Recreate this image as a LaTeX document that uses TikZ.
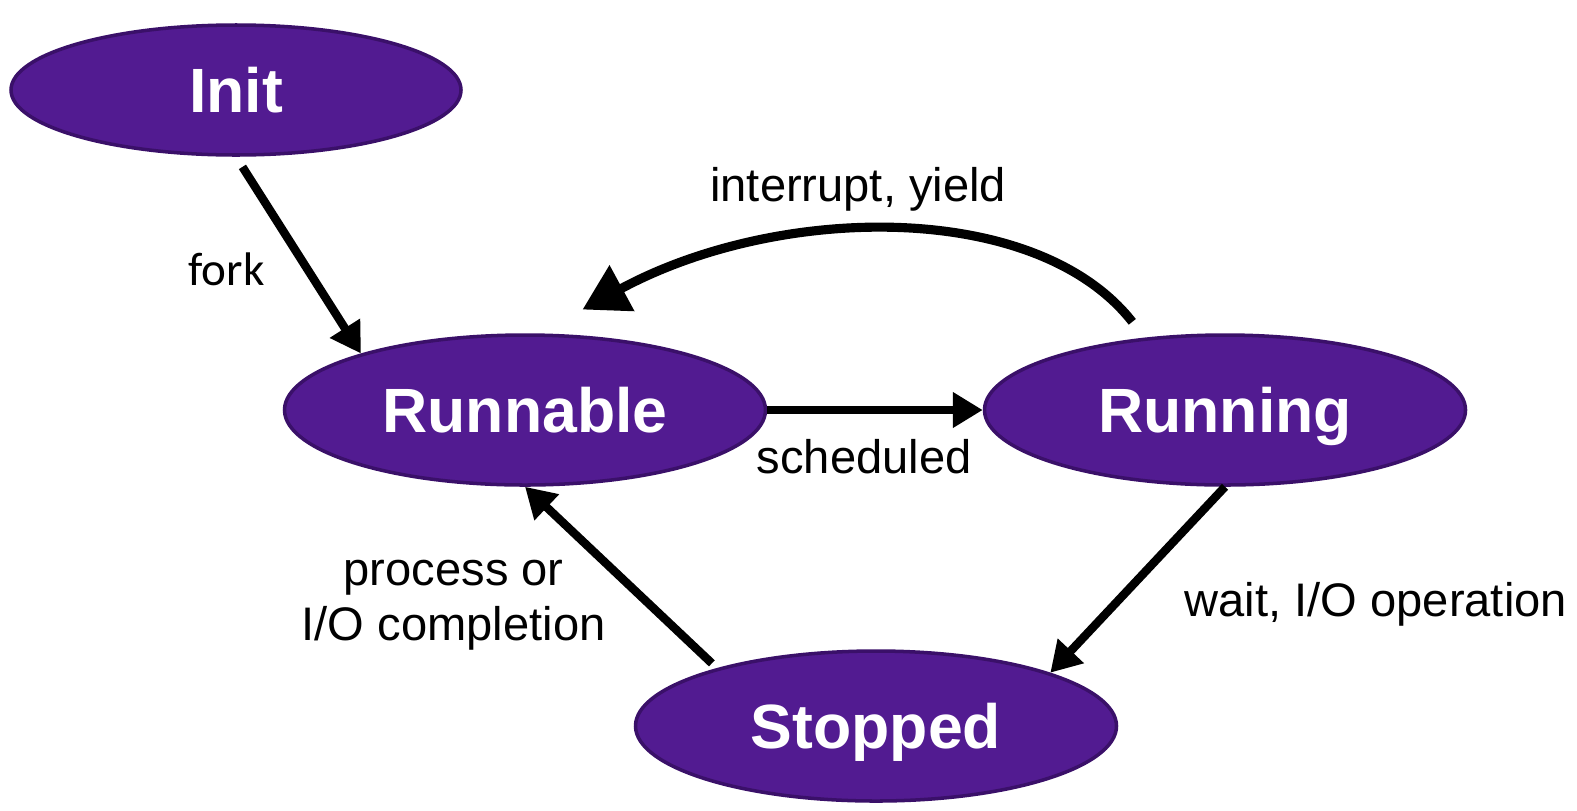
\documentclass[tikz,border=0pt]{standalone}
\usepackage{fontspec}
\setmainfont{Liberation Sans}
\newfontfamily\forkfont{Carlito}
\usetikzlibrary{shapes.geometric,arrows.meta}
\definecolor{procfill}{RGB}{82,27,145}
\definecolor{procedge}{RGB}{58,16,105}
\tikzset{proc/.style={ellipse,draw=procedge,line width=1pt,fill=procfill,text=white,
    font=\fontsize{17.8}{20}\selectfont\bfseries,text height=12.8pt,text depth=0pt,
    minimum width=4.81cm,minimum height=1.50cm,inner sep=0pt},
  trans/.style={-{Triangle[length=0.30cm,width=0.34cm]},line width=2.4pt},
  bigtrans/.style={-{Triangle[length=0.45cm,width=0.50cm]},line width=2.6pt},
  lbl/.style={font=\fontsize{13.4}{15.6}\selectfont,inner sep=1pt,text=black}}

\begin{document}
\begin{tikzpicture}
    \useasboundingbox (0,0) rectangle (15.77,8.10);
    % process states
    \node[proc,minimum width=4.50cm,minimum height=1.30cm] (init) at (2.36,7.20) {Init};
    \node[proc] (runnable) at (5.25,4.00) {Runnable};
    \node[proc] (running) at (12.25,4.00) {Running};
    \node[proc] (stopped) at (8.76,0.84) {Stopped};

    % transitions
    \draw[trans,shorten <=0.12cm] (init.south) -- node[lbl,pos=0.57,left=0.35cm,font=\forkfont\fontsize{13.4}{15.6}\selectfont] (forklbl) {fork} (runnable.161);
    \draw[trans] (runnable.east) -- node[lbl,pos=0.45,below=0.22cm] (schedlbl) {scheduled} (running.west);
    \draw[trans] (running.south) -- node[lbl,pos=0.63,right=0.62cm] (waitlbl) {wait, I/O operation} (stopped.17);
    \draw[trans,shorten <=0.07cm] (stopped.160) -- node[lbl,pos=0.4,left=0.27cm,yshift=-0.1cm,align=center] (donelbl) {process or\\I/O completion} (runnable.-90);
    \draw[bigtrans,shorten <=0.2cm,shorten >=0.5cm] (running.138) .. controls +(-1.08,1.38) and +(2.40,1.30) .. (runnable.80)
        node[lbl,pos=0.55,above=0.17cm] (intlbl) {interrupt, yield};
\end{tikzpicture}
\end{document}
